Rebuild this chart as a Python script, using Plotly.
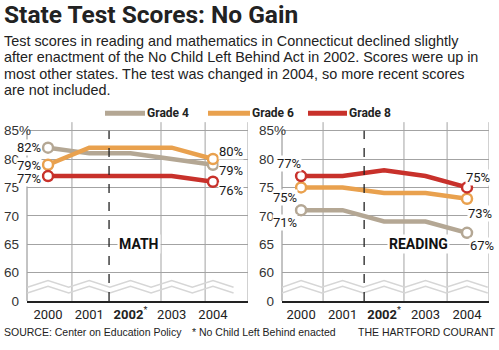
import plotly.graph_objects as go

# ---------------- data ----------------
years = [2000, 2001, 2002, 2003, 2004]
year_labels = ["2000", "2001", "<b>2002</b><sup>*</sup>", "2003", "2004"]
grades = ["Grade 4", "Grade 6", "Grade 8"]
math_g4 = [82, 81, 81, 80, 79]
math_g6 = [79, 82, 82, 82, 80]
math_g8 = [77, 77, 77, 77, 76]
read_g4 = [71, 71, 69, 69, 67]
read_g6 = [75, 75, 74, 74, 73]
read_g8 = [77, 77, 78, 77, 75]
y_tickvals = [55, 60, 65, 70, 75, 80, 85]
y_ticktext = ["0", "60", "65", "70", "75", "80", "85"]

title = "State Test Scores: No Gain"
subtitle_lines = [
    "Test scores in reading and mathematics in Connecticut declined slightly",
    "after enactment of the No Child Left Behind Act in 2002. Scores were up in",
    "most other states. The test was changed in 2004, so more recent scores",
    "are not included.",
]
source = "SOURCE: Center on Education Policy"
footnote = "* No Child Left Behind enacted"
credit = "THE HARTFORD COURANT"

# ---------------- style ----------------
W, H = 499, 350
def X(px): return px / W
def Y(py): return 1 - py / H

COND = "Roboto, Liberation Sans Narrow, sans-serif"
SANS = "Liberation Sans, Arial, sans-serif"
colors = {"Grade 4": "#b4a794", "Grade 6": "#e9a14e", "Grade 8": "#c8312b"}
GRID = "#a3a3a3"

panels = [
    dict(name="MATH", xa="x", ya="y", xdom=[X(27), X(248)], xrange=[1999.49, 2004.85],
         series=[math_g4, math_g6, math_g8],
         vgrid=[2000.58, 2002.74, 2003.81, 2004.85], dash=2001.48,
         label_pos=(2002.2, 65),
         left=[(-6, 0), (-6, -1), (-6, -2)], right=[(5, -6), (5, 8), (5, -9)]),
    dict(name="READING", xa="x2", ya="y2", xdom=[X(282), X(489)], xrange=[1999.54, 2004.53],
         series=[read_g4, read_g6, read_g8],
         vgrid=[2000.53, 2002.48, 2003.52, 2004.53], dash=2001.52,
         label_pos=(2002.82, 65),
         left=[(-3, -12), (-3, -10), (1, 13)], right=[(2, -13), (0, -15), (-2, 10)]),
]

fig = go.Figure()
shapes = []
annotations = []
layout_axes = {}

for i, p in enumerate(panels):
    xa, ya = p["xa"], p["ya"]
    xkey = "xaxis" if xa == "x" else "xaxis2"
    ykey = "yaxis" if ya == "y" else "yaxis2"
    layout_axes[xkey] = dict(domain=p["xdom"], range=p["xrange"], anchor=ya,
                             tickvals=years, ticktext=year_labels, ticks="",
                             showgrid=False, zeroline=False, showline=True,
                             linecolor="#222", linewidth=2,
                             tickfont=dict(family=COND, size=13, color="#222"))
    layout_axes[ykey] = dict(domain=[Y(308), Y(125)], range=[55, 86.5], anchor=xa,
                             tickvals=y_tickvals, ticktext=y_ticktext, ticks="",
                             showgrid=True, gridcolor=GRID, gridwidth=1,
                             zeroline=False, showline=False, ticklabelstandoff=7,
                             tickfont=dict(family=SANS, size=13.5, color="#333"))
    # vertical gridlines
    for gx in p["vgrid"]:
        shapes.append(dict(type="line", xref=xa, yref=f"{ya} domain", x0=gx, x1=gx,
                           y0=0, y1=1, line=dict(color=GRID, width=1), layer="below"))
    # y axis line
    shapes.append(dict(type="line", xref=f"{xa} domain", yref=ya, x0=0, x1=0,
                       y0=55, y1=85, line=dict(color="#888", width=1), layer="below"))
    # zigzag break
    xs = []
    v = 1999.5
    while v <= p["xrange"][1] + 0.001:
        xs.append(v)
        v += 0.5
    for hi, lo in [(58.6, 57.4), (57.6, 56.4)]:
        pts = []
        for xv in xs:
            xx = max(min(xv, p["xrange"][1]), p["xrange"][0])
            yy = hi if abs(xv - round(xv)) < 0.01 else lo
            pts.append((xx, yy))
        path = "M " + " L ".join(f"{a},{b}" for a, b in pts)
        shapes.append(dict(type="path", xref=xa, yref=ya, path=path,
                           line=dict(color="#d6d6d6", width=1.5), layer="below"))
    # dashed NCLB line
    shapes.append(dict(type="line", xref=xa, yref=ya, x0=p["dash"], x1=p["dash"],
                       y0=55, y1=85, line=dict(color="#222", width=1.3, dash="dash")))
    # series
    for g, vals, lp, rp in zip(grades, p["series"], p["left"], p["right"]):
        fig.add_trace(go.Scatter(x=years, y=vals, mode="lines", xaxis=xa, yaxis=ya,
                                 line=dict(color=colors[g], width=4.5), showlegend=False,
                                 hoverinfo="skip"))
        fig.add_trace(go.Scatter(x=[years[0], years[-1]], y=[vals[0], vals[-1]],
                                 mode="markers", xaxis=xa, yaxis=ya, showlegend=False,
                                 marker=dict(symbol="circle", size=10, color="white",
                                             line=dict(color=colors[g], width=2.5))))
        annotations.append(dict(xref=xa, yref=ya, x=years[0], y=vals[0],
                                text=f"{vals[0]}%", showarrow=False, xanchor="right",
                                xshift=lp[0], yshift=lp[1], bgcolor="white", borderpad=0,
                                font=dict(family=COND, size=13, color="#1a1a1a")))
        annotations.append(dict(xref=xa, yref=ya, x=years[-1], y=vals[-1],
                                text=f"{vals[-1]}%", showarrow=False, xanchor="left",
                                xshift=rp[0], yshift=rp[1], bgcolor="white", borderpad=0,
                                font=dict(family=COND, size=13, color="#1a1a1a")))
    # "%" on top tick
    annotations.append(dict(xref=f"{xa} domain", yref=ya, x=0, y=85, text="%",
                            showarrow=False, xanchor="left", xshift=-10,
                            font=dict(family=SANS, size=13.5, color="#333")))
    # panel label
    annotations.append(dict(xref=xa, yref=ya, x=p["label_pos"][0], y=p["label_pos"][1],
                            text=f"<b>{p['name']}</b>", showarrow=False, bgcolor="white",
                            borderpad=1, font=dict(family=COND, size=14, color="#111")))

# legend
legend_px = [(105, 145), (208, 250), (308, 347)]
for g, (a, b) in zip(grades, legend_px):
    shapes.append(dict(type="line", xref="paper", yref="paper", x0=X(a), x1=X(b),
                       y0=Y(116), y1=Y(116), line=dict(color=colors[g], width=5)))
    annotations.append(dict(xref="paper", yref="paper", x=X(b), y=Y(116),
                            text=f"<b>{g}</b>", showarrow=False, xanchor="left",
                            yanchor="middle", font=dict(family=COND, size=12, color="#222")))

# title, subtitle, footer
annotations.append(dict(xref="paper", yref="paper", x=X(2), y=Y(15), text=f"<b>{title}</b>",
                        showarrow=False, xanchor="left", yanchor="middle",
                        font=dict(family=COND, size=24.5, color="#222")))
for k, line in enumerate(subtitle_lines):
    annotations.append(dict(xref="paper", yref="paper", x=X(2), y=Y(42 + 16.8 * k),
                            text=line, showarrow=False, xanchor="left", yanchor="middle",
                            font=dict(family=SANS, size=14.4, color="#222")))
annotations.append(dict(xref="paper", yref="paper", x=X(2), y=Y(340), text=source,
                        showarrow=False, xanchor="left", yanchor="middle",
                        font=dict(family=SANS, size=10.5, color="#222")))
annotations.append(dict(xref="paper", yref="paper", x=X(190), y=Y(340), text=footnote,
                        showarrow=False, xanchor="left", yanchor="middle",
                        font=dict(family=SANS, size=10.5, color="#222")))
annotations.append(dict(xref="paper", yref="paper", x=X(497), y=Y(340), text=credit,
                        showarrow=False, xanchor="right", yanchor="middle",
                        font=dict(family=SANS, size=10.5, color="#222")))

fig.update_layout(width=W, height=H, margin=dict(l=0, r=0, t=0, b=0),
                  paper_bgcolor="white", plot_bgcolor="white", showlegend=False,
                  shapes=shapes, annotations=annotations, **layout_axes)

fig.write_html("out.html")
